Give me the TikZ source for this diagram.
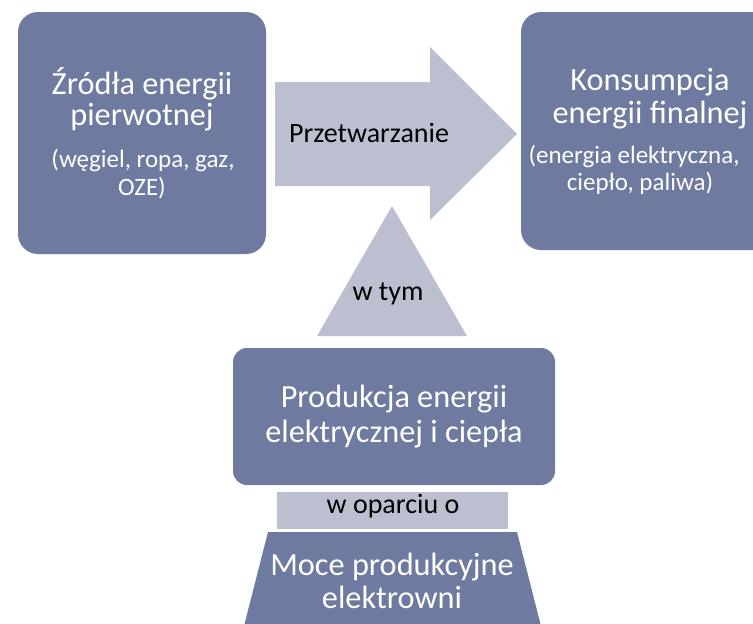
\documentclass[tikz,border=0pt]{standalone}
\usepackage{fontspec}
\setmainfont{Carlito}
\definecolor{boxblue}{HTML}{6F7AA1}
\definecolor{boxgray}{HTML}{BBBFD0}
\tikzset{
  darkshape/.style={fill=boxblue},
  lightshape/.style={fill=boxgray},
  bigtxt/.style={anchor=base,inner sep=0pt,text=white,font=\fontsize{32.3}{32}\selectfont},
  smalltxt/.style={anchor=base,inner sep=0pt,text=white,font=\fontsize{25}{25}\selectfont},
  labeltxt/.style={anchor=base,inner sep=0pt,text=black,font=\fontsize{28}{28}\selectfont}
}
\begin{document}
\begin{tikzpicture}[x=1pt,y=-1pt]
\useasboundingbox (0,0) rectangle (753,624);
\begin{scope}
\clip (0,0) rectangle (753,624);
% shapes
\fill[darkshape,rounded corners=20pt] (18,12) rectangle (266,254);
\fill[darkshape,rounded corners=20pt] (521,12) rectangle (779,250);
\fill[lightshape] (275,82) -- (430,82) -- (430,47) -- (517,134) -- (430,220) -- (430,186) -- (275,186) -- cycle;
\fill[lightshape] (392,206) -- (467,336) -- (317,336) -- cycle;
\fill[darkshape,rounded corners=14pt] (233,348) rectangle (555,485);
\fill[lightshape] (277,492) rectangle (508,529);
\fill[darkshape] (268,532) -- (517,532) -- (542,630) -- (243,630) -- cycle;
\end{scope}
% texts
\node[bigtxt] (src1) at (142,94) {Źródła energii};
\node[bigtxt] (src2) at (142,125) {pierwotnej};
\node[smalltxt] (src3) at (143,167) {(węgiel, ropa, gaz,};
\node[smalltxt] (src4) at (142,195) {OZE)};
\node[bigtxt] (fin1) at (650,90) {Konsumpcja};
\node[bigtxt] (fin2) at (650,123) {energii finalnej};
\node[smalltxt] (fin3) at (634,163) {(energia elektryczna,};
\node[smalltxt] (fin4) at (640,190) {ciepło, paliwa)};
\node[labeltxt,anchor=base west] (conv) at (289,142) {Przetwarzanie};
\node[labeltxt] (incl) at (388,300) {w tym};
\node[bigtxt] (prod1) at (394,407) {Produkcja energii};
\node[bigtxt] (prod2) at (394,442) {elektrycznej i ciepła};
\node[labeltxt] (based) at (393,513) {w oparciu o};
\node[bigtxt] (cap1) at (392,575) {Moce produkcyjne};
\node[bigtxt] (cap2) at (392,608) {elektrowni};
\end{tikzpicture}
\end{document}
